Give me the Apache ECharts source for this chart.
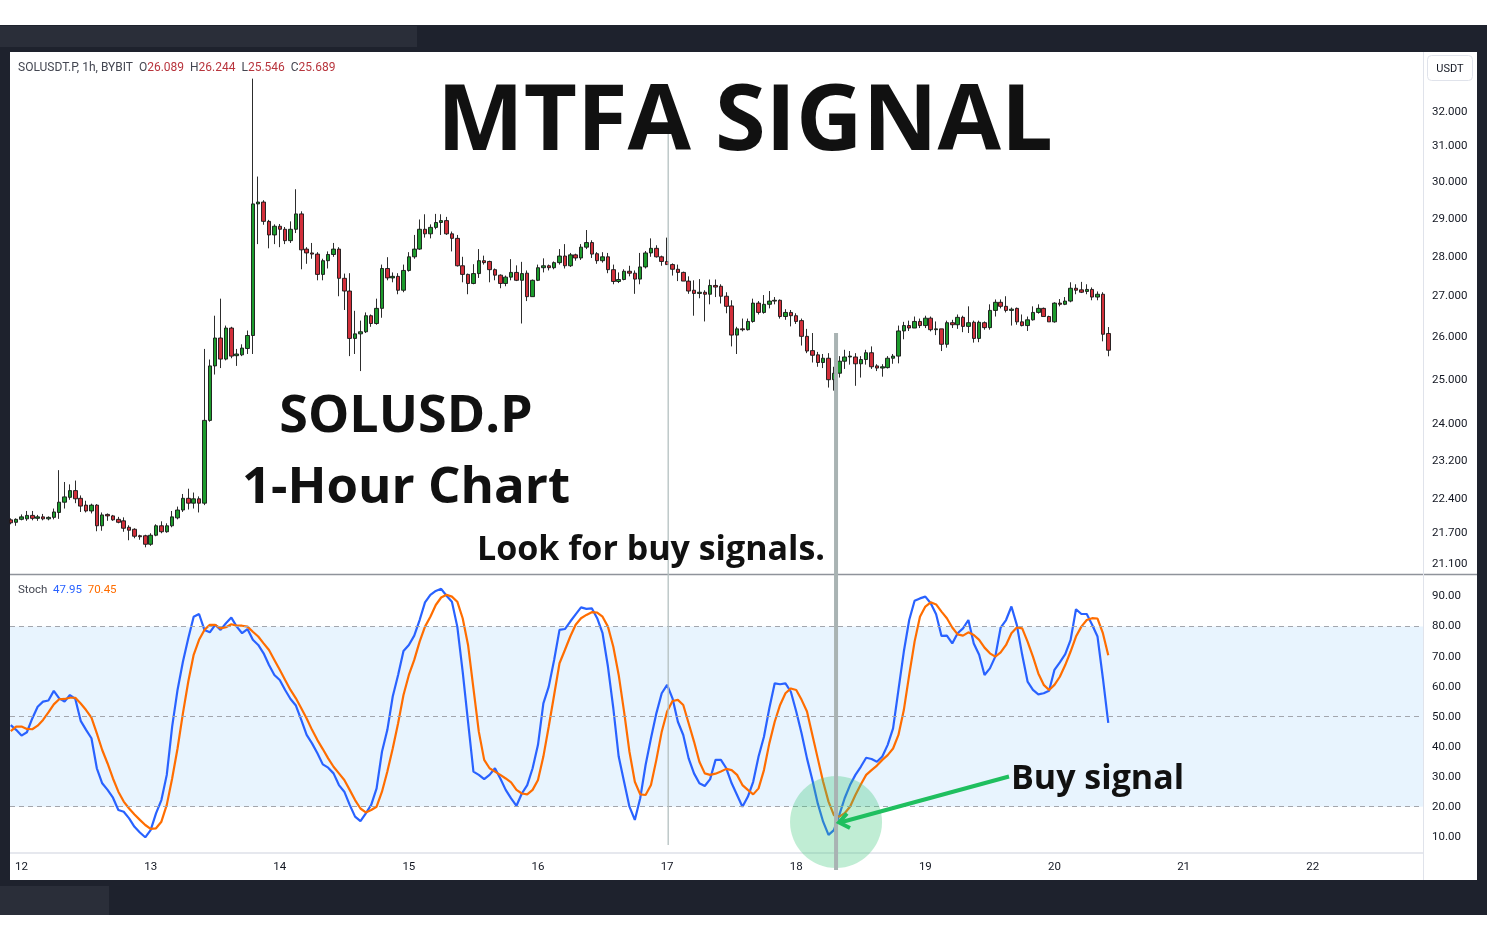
<!DOCTYPE html>
<html><head><meta charset="utf-8">
<script src="https://cdn.jsdelivr.net/npm/echarts/dist/echarts.min.js"></script>
<style>html,body{margin:0;padding:0;background:#fff}#c{width:1487px;height:941px}</style>
</head><body><div id="c"></div>
<script>
// ---- data: hourly candles, first candle at hour -2 (day 12 = hour 0) ----
const START_HOUR = -2;
const OPEN = [
21.97,21.92,21.98,21.99,22.06,22.00,22.03,21.99,22.02,22.12,
22.33,22.43,22.57,22.41,22.27,22.15,22.27,21.85,22.08,22.05,
21.98,21.95,21.82,21.78,21.65,21.65,21.48,21.66,21.85,21.73,
21.85,22.01,22.17,22.41,22.31,22.40,22.31,24.08,25.32,25.98,
25.48,26.22,25.56,25.58,25.73,26.04,29.40,29.45,28.93,28.57,
28.80,28.72,28.42,28.72,29.13,28.20,28.10,28.07,27.55,27.90,
28.06,28.20,27.45,27.13,25.97,26.08,26.13,26.52,26.33,26.70,
27.70,27.46,27.50,27.15,27.65,28.00,28.20,28.72,28.60,28.77,
28.90,28.95,28.60,28.48,27.77,27.55,27.32,27.57,27.90,27.88,
27.67,27.53,27.32,27.48,27.60,27.40,27.58,26.99,27.40,27.72,
27.77,27.72,27.85,28.02,27.77,28.05,27.97,28.25,28.37,28.08,
27.90,28.00,27.67,27.37,27.42,27.63,27.58,27.43,27.74,28.10,
28.22,28.00,27.88,27.80,27.68,27.60,27.38,27.15,27.07,27.10,
27.05,27.27,27.25,27.00,26.76,26.05,26.20,26.18,26.38,26.83,
26.60,26.80,26.88,26.90,26.50,26.60,26.52,26.40,26.02,25.68,
25.58,25.40,25.50,25.00,25.15,25.43,25.53,25.53,25.37,25.47,
25.63,25.32,25.27,25.28,25.50,25.55,26.15,26.28,26.22,26.38,
26.28,26.46,26.18,26.20,25.83,26.35,26.30,26.48,26.26,26.36,
25.97,26.35,26.23,26.65,26.85,26.75,26.65,26.70,26.37,26.28,
26.42,26.60,26.70,26.50,26.37,26.83,26.80,26.88,27.20,27.16,
27.12,27.17,26.98,27.05,26.089];
const CLOSE = [
21.91,21.98,22.03,22.06,22.00,22.03,21.99,22.02,22.13,22.33,
22.44,22.57,22.40,22.25,22.15,22.27,21.85,22.07,22.05,21.97,
21.92,21.80,21.76,21.64,21.63,21.48,21.66,21.85,21.73,21.85,
22.03,22.17,22.41,22.31,22.40,22.31,24.08,25.32,25.98,25.48,
26.22,25.55,25.60,25.74,26.04,29.40,29.45,28.93,28.57,28.80,
28.72,28.42,28.72,29.13,28.18,28.10,28.07,27.55,27.90,28.06,
28.20,27.45,27.13,25.97,26.08,26.13,26.52,26.33,26.70,27.70,
27.46,27.50,27.15,27.65,28.00,28.20,28.72,28.60,28.77,28.90,
28.95,28.60,28.48,27.77,27.55,27.32,27.57,27.90,27.85,27.67,
27.53,27.32,27.48,27.60,27.40,27.57,26.99,27.40,27.72,27.77,
27.72,27.85,28.02,27.77,28.05,27.97,28.25,28.37,28.07,27.90,
28.00,27.67,27.37,27.42,27.63,27.58,27.43,27.74,28.10,28.22,
28.00,27.88,27.80,27.68,27.60,27.38,27.13,27.07,27.10,27.05,
27.27,27.23,27.00,26.75,26.05,26.20,26.18,26.38,26.83,26.60,
26.80,26.88,26.90,26.50,26.60,26.52,26.38,26.02,25.67,25.57,
25.40,25.50,25.00,25.15,25.43,25.53,25.55,25.37,25.47,25.63,
25.30,25.27,25.30,25.50,25.55,26.15,26.28,26.22,26.38,26.28,
26.46,26.18,26.20,25.83,26.35,26.30,26.48,26.26,26.35,25.97,
26.36,26.23,26.65,26.85,26.75,26.65,26.68,26.37,26.28,26.42,
26.60,26.70,26.50,26.37,26.83,26.80,26.88,27.20,27.15,27.10,
27.17,26.98,27.05,26.07,25.689];
const LOW = [
21.88,21.85,21.96,21.95,21.96,21.95,21.96,21.96,21.98,21.99,
22.20,22.38,22.31,22.13,22.12,22.10,21.74,21.75,21.95,21.95,
21.90,21.73,21.56,21.60,21.57,21.42,21.45,21.64,21.70,21.71,
21.82,21.98,22.13,22.18,22.20,22.12,22.27,24.05,25.12,25.27,
25.45,25.50,25.32,25.55,25.60,25.60,28.33,28.84,28.22,28.33,
28.25,28.33,28.36,28.62,27.68,27.82,27.95,27.40,27.40,27.70,
28.00,27.00,26.66,25.55,25.60,25.20,26.10,26.25,26.30,26.47,
27.40,27.35,27.05,27.10,27.62,27.95,28.18,28.50,28.48,28.72,
28.57,28.57,28.14,27.75,27.35,27.05,27.30,27.46,27.80,27.35,
27.40,27.20,27.25,27.40,27.38,26.33,26.88,26.99,27.38,27.60,
27.65,27.68,27.80,27.70,27.74,27.90,27.92,28.20,27.97,27.82,
27.85,27.58,27.30,27.33,27.40,27.50,27.06,27.30,27.70,28.00,
27.98,27.77,27.80,27.52,27.38,27.38,27.06,26.52,26.95,26.38,
26.80,26.98,26.82,26.58,25.78,25.60,26.14,26.16,26.35,26.55,
26.57,26.70,26.80,26.45,26.42,26.26,26.32,25.80,25.62,25.40,
25.30,25.27,24.82,24.75,25.05,25.25,25.35,24.86,25.05,25.35,
25.25,25.20,25.07,25.26,25.37,25.38,25.95,26.15,26.22,26.22,
26.22,26.14,26.05,25.67,25.75,26.22,26.20,26.12,26.10,25.87,
25.88,26.18,26.18,26.50,26.70,26.60,26.28,26.30,26.26,26.15,
26.40,26.57,26.50,26.37,26.35,26.75,26.78,26.85,27.05,27.08,
27.05,26.90,26.90,25.90,25.546];
const HIGH = [
22.00,22.00,22.08,22.15,22.15,22.07,22.09,22.04,22.20,23.00,
22.75,22.70,22.78,22.47,22.36,22.30,22.29,22.12,22.10,22.07,
22.03,22.02,21.86,21.80,21.67,21.67,21.70,21.88,21.94,21.90,
22.15,22.24,22.50,22.61,22.53,22.45,25.72,25.47,26.52,26.94,
26.28,26.25,25.72,25.83,26.16,33.00,30.15,29.50,28.97,28.85,
28.86,28.78,28.93,29.80,29.20,28.25,28.36,28.12,27.95,28.14,
28.36,28.25,27.57,27.58,26.64,26.40,26.60,26.55,26.94,27.80,
27.99,27.60,27.58,27.80,28.12,28.57,28.98,29.12,28.85,29.13,
29.12,29.05,28.66,28.57,28.00,27.57,27.81,28.20,28.03,27.90,
27.70,27.55,27.52,27.94,27.78,27.87,27.65,27.42,27.80,27.96,
27.80,27.88,28.20,28.33,28.10,28.08,28.33,28.70,28.43,28.12,
28.12,28.10,27.80,27.60,27.68,27.77,27.65,28.10,28.15,28.48,
28.30,28.03,28.50,27.83,27.80,27.62,27.50,27.40,27.43,27.15,
27.42,27.42,27.30,27.10,26.90,26.25,26.45,26.45,26.94,26.88,
27.03,27.13,26.98,26.92,26.68,26.66,26.58,26.45,26.20,26.10,
25.65,25.60,25.62,25.30,25.55,25.70,25.67,25.62,25.55,25.70,
25.78,25.36,25.36,25.55,25.60,26.28,26.37,26.40,26.50,26.45,
26.52,26.50,26.38,26.20,26.40,26.42,26.55,26.52,26.75,26.40,
26.40,26.38,26.80,26.92,26.92,27.00,26.72,26.72,26.55,26.50,
26.75,26.80,26.72,26.52,26.85,26.93,26.98,27.35,27.30,27.36,
27.30,27.22,27.12,27.10,26.244];
// Stochastic %K (blue) and %D (orange), same hours
const K_LINE = [
47.2,45.6,43.7,44.8,49.4,53.3,55.0,55.4,58.6,56.1,
55.0,57.2,55.9,48.6,45.6,42.8,32.8,27.8,25.6,23.0,
18.9,18.3,16.1,13.3,11.4,9.8,12.2,17.8,22.2,30.6,
46.7,58.9,68.3,76.1,83.3,84.2,78.9,78.1,80.6,78.9,
81.1,83.0,80.0,77.8,79.2,75.6,73.9,71.1,67.2,63.9,
62.2,58.9,55.9,53.7,48.9,43.9,41.1,37.8,34.1,33.0,
31.1,27.2,25.0,20.6,16.7,15.2,17.8,20.6,26.1,38.3,
45.6,56.7,63.9,71.9,73.9,77.0,82.2,88.1,90.6,91.9,
92.6,90.3,88.3,80.0,65.0,48.3,31.7,30.6,29.2,30.6,
32.8,29.4,25.6,22.8,20.3,24.4,27.2,32.8,40.6,54.4,
60.0,68.9,78.9,79.2,81.7,84.1,86.4,85.9,86.1,82.8,
77.8,66.7,52.8,36.7,28.3,20.0,15.6,22.8,33.9,42.8,
51.1,57.8,60.6,56.1,48.3,43.9,36.1,31.1,27.8,26.9,
29.2,35.6,35.6,32.8,27.8,23.9,20.0,23.3,28.3,36.7,
43.3,52.8,61.1,60.8,61.1,58.3,51.7,44.4,36.1,28.9,
21.1,15.0,10.6,12.2,17.2,22.8,27.2,30.6,33.3,36.3,
35.9,35.0,36.7,40.6,46.1,58.9,71.7,82.2,88.6,89.4,
90.0,87.8,84.1,76.9,77.0,74.4,77.8,79.4,82.2,74.4,
70.6,63.9,66.1,70.0,79.7,82.2,86.7,80.6,70.6,61.7,
58.9,57.4,57.8,58.6,65.6,68.1,70.8,75.6,85.8,84.2,
84.2,80.6,76.7,62.8,47.95];
const D_LINE = [
45.2,46.7,46.7,45.9,45.8,47.0,48.9,51.4,54.1,55.8,
55.9,56.3,56.3,54.4,52.2,49.7,44.4,38.9,34.4,29.4,
25.0,21.7,19.4,17.4,15.6,13.9,12.6,12.8,15.0,20.6,
29.4,39.4,51.1,61.7,70.6,75.6,78.9,80.6,80.6,79.4,
79.8,80.8,80.3,80.3,80.0,78.3,76.7,74.4,72.2,68.9,
65.6,62.2,58.9,56.1,52.8,49.4,45.6,42.2,39.2,36.1,
33.3,31.1,28.9,25.6,22.2,19.4,18.1,18.9,20.0,25.0,
31.7,39.4,47.8,57.2,63.9,68.9,75.0,80.0,83.3,87.2,
89.7,90.6,90.0,88.3,82.8,73.9,59.4,45.0,35.6,32.8,
31.7,30.6,29.4,28.1,25.6,24.4,24.1,25.6,28.9,36.7,
46.7,57.2,67.8,72.2,76.7,80.6,82.8,83.9,84.8,84.7,
83.3,80.0,73.3,63.9,51.7,38.3,28.3,24.1,23.9,27.2,
35.6,45.0,51.7,55.2,55.6,53.9,47.8,41.7,35.0,31.1,
30.6,31.0,31.7,32.6,32.2,30.6,27.2,25.6,24.1,26.1,
32.2,41.1,48.3,53.9,57.8,59.4,58.9,55.6,51.7,43.9,
36.1,28.3,21.7,17.2,16.7,17.8,20.0,23.9,27.4,30.6,
32.2,33.7,35.6,37.2,39.4,43.9,52.2,63.9,75.0,83.3,
86.7,88.1,87.4,85.0,82.8,79.7,77.4,77.0,78.1,77.2,
75.6,73.0,71.1,70.0,71.4,73.9,77.8,79.7,79.4,75.0,
70.0,64.4,60.6,58.9,60.6,63.3,67.2,71.7,76.7,80.0,
82.2,82.8,82.7,77.8,70.45];
const DAY_TICK_HOURS = [0,24,48,72,96,120,144,168,192,216,240];
const DAY_LABELS = ['12','13','14','15','16','17','18','19','20','21','22'];
const PRICE_TICKS = [21.1,21.7,22.4,23.2,24,25,26,27,28,29,30,31,32];
const STOCH_TICKS = [10,20,30,40,50,60,70,80,90];
const STOCH_LEVELS = [80,50,20];
const SIGNAL_HOUR = 151.4, CROSS_HOUR = 120.2, SIGNAL_STOCH = 14.9;

const HOURS = OPEN.map((_, i) => START_HOUR + i);
const candles = HOURS.map((h, i) => [h, OPEN[i], CLOSE[i], LOW[i], HIGH[i]]);
const kData = HOURS.map((h, i) => [h, K_LINE[i]]);
const dData = HOURS.map((h, i) => [h, D_LINE[i]]);

const FONT = 'Roboto, "Liberation Sans", sans-serif';
const BIG = '"Open Sans", "Liberation Sans", sans-serif';
const X_MIN = -2.14, X_MAX = 260.5;

const chart = echarts.init(document.getElementById('c'));
const axisLab = (vals, fmt) => ({customValues: vals, formatter: fmt, color: '#131722', fontSize: 11.5, fontFamily: FONT, margin: 9});
chart.setOption({
  backgroundColor: '#ffffff',
  animation: false,
  grid: [
    {left: 10, right: 64, top: 52, height: 522.5},
    {left: 10, right: 64, top: 575, height: 277.7}
  ],
  xAxis: [
    {type: 'value', gridIndex: 0, min: X_MIN, max: X_MAX, axisLine: {show: false}, axisTick: {show: false}, axisLabel: {show: false}, splitLine: {show: false}},
    {type: 'value', gridIndex: 1, min: X_MIN, max: X_MAX, axisLine: {show: false}, axisTick: {show: false}, splitLine: {show: false},
      axisLabel: Object.assign(axisLab(DAY_TICK_HOURS, v => DAY_LABELS[DAY_TICK_HOURS.indexOf(Math.round(v))] || ''), {margin: 8})}
  ],
  yAxis: [
    {type: 'log', gridIndex: 0, position: 'right', min: 20.89, max: 33.82, axisLine: {show: false}, axisTick: {show: false},
      splitLine: {show: false}, minorSplitLine: {show: false}, axisLabel: axisLab(PRICE_TICKS, v => Number(v).toFixed(3))},
    {type: 'value', gridIndex: 1, position: 'right', min: 4.67, max: 97.2, axisLine: {show: false}, axisTick: {show: false},
      splitLine: {show: false}, axisLabel: axisLab(STOCH_TICKS, v => Number(v).toFixed(2))}
  ],
  series: [
    {type: 'candlestick', xAxisIndex: 0, yAxisIndex: 0, data: candles, encode: {x: 0, y: [1, 2, 3, 4]}, barWidth: 4,
      itemStyle: {color: '#1c9b2c', color0: '#d22f3a', borderColor: '#151515', borderColor0: '#151515', borderWidth: 0.9}},
    {type: 'line', xAxisIndex: 1, yAxisIndex: 1, data: kData, showSymbol: false, lineStyle: {color: '#2962ff', width: 2.2}, z: 3,
      markArea: {silent: true, itemStyle: {color: 'rgba(33,150,243,0.1)'}, data: [[{yAxis: 20}, {yAxis: 80}]]},
      markLine: {silent: true, symbol: 'none', label: {show: false}, lineStyle: {color: '#a3a6ad', width: 1.2, type: [5, 4]},
        data: STOCH_LEVELS.map(v => ({yAxis: v}))}},
    {type: 'line', xAxisIndex: 1, yAxisIndex: 1, data: dData, showSymbol: false, lineStyle: {color: '#ff6d00', width: 2.2}, z: 4}
  ]
});

const sX = chart.convertToPixel({gridIndex: 1}, [SIGNAL_HOUR, 50])[0];
const cX = chart.convertToPixel({gridIndex: 1}, [CROSS_HOUR, 50])[0];
const circ = chart.convertToPixel({gridIndex: 1}, [SIGNAL_HOUR, SIGNAL_STOCH]);
const DARK = '#1e222d', DARK2 = '#2a2e39';
const rect = (x, y, w, h, fill, z) => ({type: 'rect', shape: {x, y, width: w, height: h}, style: {fill}, z: z || 1, silent: true});
const line = (x1, y1, x2, y2, stroke, w, z) => ({type: 'line', shape: {x1, y1, x2, y2}, style: {stroke, lineWidth: w}, z: z || 5, silent: true});
const text = (x, y, t, font, align, z) => ({type: 'text', x, y, style: {text: t, font, fill: '#111111', align: align || 'center', verticalAlign: 'middle'}, z: z || 60, silent: true});

chart.setOption({graphic: [
  rect(0, 25, 1487, 27, DARK), rect(0, 26, 417, 21, DARK2, 2),
  rect(0, 25, 10, 890, DARK), rect(1477, 25, 10, 890, DARK),
  rect(0, 880, 1487, 35, DARK), rect(0, 886, 109, 29, DARK2, 2),
  line(10, 574.5, 1477, 574.5, '#8f939b', 1.6),
  line(1423.5, 52, 1423.5, 880, '#e0e3eb', 1),
  line(10, 853, 1423, 853, '#e6e8ee', 2),
  {type: 'rect', shape: {x: 1427.5, y: 55.5, width: 45, height: 25, r: 4}, style: {fill: '#fff', stroke: '#e0e3eb', lineWidth: 1}, z: 6},
  {type: 'text', x: 1450, y: 69, style: {text: 'USDT', font: '11px ' + FONT, fill: '#131722', align: 'center', verticalAlign: 'middle'}, z: 7},
  {type: 'text', x: 18, y: 67.5, z: 7, style: {text: '{a|SOLUSDT.P, 1h, BYBIT  O}{r|26.089}{a|  H}{r|26.244}{a|  L}{r|25.546}{a|  C}{r|25.689}',
    font: '12px ' + FONT, verticalAlign: 'middle', rich: {a: {fill: '#434651', fontSize: 12, fontFamily: FONT}, r: {fill: '#b8353d', fontSize: 12, fontFamily: FONT}}}},
  {type: 'text', x: 18, y: 590.5, z: 7, style: {text: '{a|Stoch  }{b|47.95}{a|  }{o|70.45}',
    font: '11.5px ' + FONT, verticalAlign: 'middle', rich: {a: {fill: '#434651', fontSize: 11.5, fontFamily: FONT}, b: {fill: '#2962ff', fontSize: 11.5, fontFamily: FONT}, o: {fill: '#ff6d00', fontSize: 11.5, fontFamily: FONT}}}},
  line(cX, 130, cX, 845, '#b4c0c0', 1.3, 40),
  {type: 'circle', shape: {cx: circ[0], cy: circ[1], r: 46}, style: {fill: 'rgba(60,200,120,0.32)'}, z: 45, silent: true},
  line(sX, 333, sX, 870, '#a9b3b3', 4, 46),
  text(745, 124, 'MTFA SIGNAL', 'bold 92px ' + BIG),
  text(406, 417, 'SOLUSD.P', 'bold 52px ' + BIG),
  text(406, 488, '1-Hour Chart', 'bold 51px ' + BIG),
  text(651, 550, 'Look for buy signals.', 'bold 34px ' + BIG),
  text(1011, 779, 'Buy signal', 'bold 34px ' + BIG, 'left'),
  {type: 'polyline', shape: {points: [[1009, 776.5], [840, 822.5]]}, style: {stroke: '#1fbf5f', lineWidth: 4, fill: null}, z: 55, silent: true},
  {type: 'polyline', shape: {points: [[847, 813.5], [839, 822.5], [850, 828]]}, style: {stroke: '#1fbf5f', lineWidth: 4, fill: null, lineJoin: 'miter'}, z: 55, silent: true}
]});
</script></body></html>
